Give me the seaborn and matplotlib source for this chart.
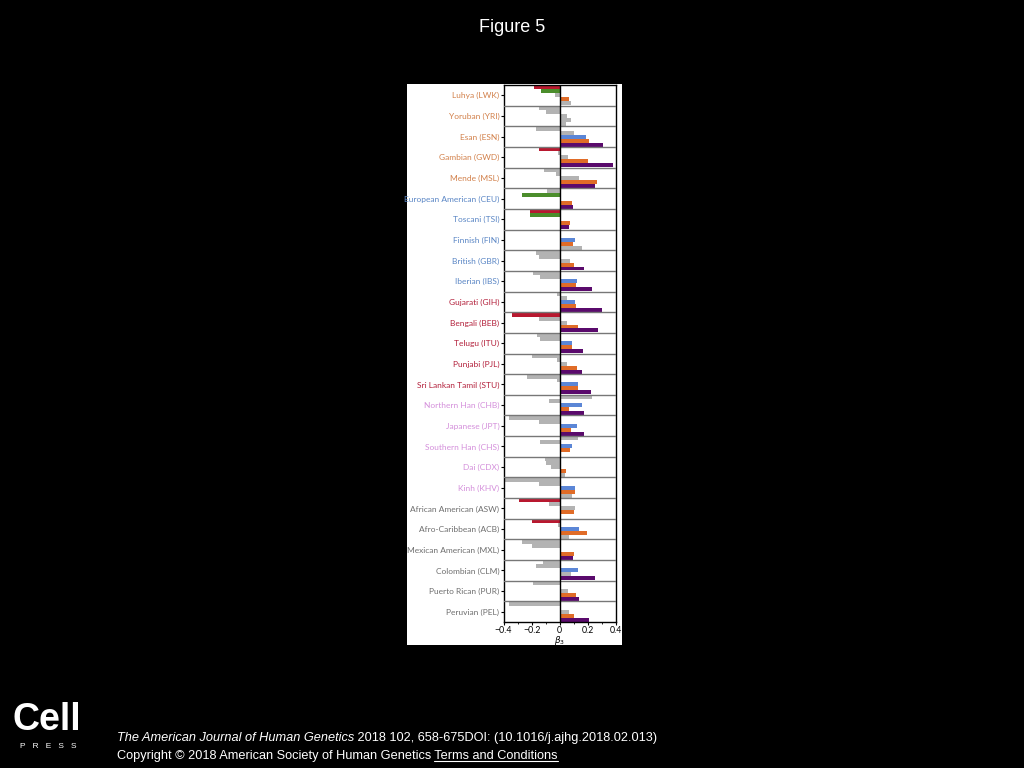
import matplotlib
matplotlib.use("Agg")

import matplotlib.pyplot as plt
import matplotlib.patches as mpatches
from matplotlib.ticker import MultipleLocator
import seaborn as sns
import pandas as pd

# ── data ──────────────────────────────────────────────
POPULATIONS = [
    "Luhya (LWK)", "Yoruban (YRI)", "Esan (ESN)", "Gambian (GWD)", "Mende (MSL)",
    "European American (CEU)", "Toscani (TSI)", "Finnish (FIN)", "British (GBR)", "Iberian (IBS)",
    "Gujarati (GIH)", "Bengali (BEB)", "Telugu (ITU)", "Punjabi (PJL)", "Sri Lankan Tamil (STU)",
    "Northern Han (CHB)", "Japanese (JPT)", "Southern Han (CHS)", "Dai (CDX)", "Kinh (KHV)",
    "African American (ASW)", "Afro-Caribbean (ACB)", "Mexican American (MXL)",
    "Colombian (CLM)", "Puerto Rican (PUR)", "Peruvian (PEL)",
]
GROUPS = ["AFR"] * 5 + ["EUR"] * 5 + ["SAS"] * 5 + ["EAS"] * 5 + ["AMR"] * 6

SERIES = ["red", "green", "blue", "orange", "purple"]

BETA_RED = [-0.18, -0.15, -0.17, -0.15, -0.11, -0.09, -0.21, 0.0, -0.17, -0.19,
            -0.023, -0.337, -0.16, -0.20, -0.23, 0.227, -0.36, 0.13, -0.105, -0.39,
            -0.29, -0.20, -0.265, -0.117, -0.19, -0.36]
BETA_GREEN = [-0.13, -0.10, 0.10, -0.015, -0.03, -0.27, -0.215, 0.0, -0.15, -0.14,
              0.054, -0.15, -0.14, -0.023, -0.023, -0.08, -0.147, -0.14, -0.10, -0.147,
              -0.08, -0.016, -0.20, -0.168, 0.0, 0.0]
BETA_BLUE = [-0.035, 0.054, 0.19, 0.06, 0.14, 0.0, 0.0, 0.105, 0.075, 0.126,
             0.105, 0.054, 0.09, 0.054, 0.13, 0.157, 0.12, 0.087, -0.06, 0.11,
             0.105, 0.135, 0.0, 0.129, 0.056, 0.063]
BETA_ORANGE = [0.063, 0.077, 0.21, 0.20, 0.265, 0.087, 0.073, 0.094, 0.098, 0.112,
               0.117, 0.13, 0.09, 0.12, 0.13, 0.068, 0.08, 0.073, 0.042, 0.105,
               0.103, 0.197, 0.10, 0.08, 0.112, 0.098]
BETA_PURPLE = [0.077, 0.047, 0.31, 0.38, 0.25, 0.096, 0.066, 0.157, 0.175, 0.227,
               0.30, 0.27, 0.166, 0.16, 0.222, 0.17, 0.17, 0.0, 0.04, 0.09,
               0.0, 0.063, 0.094, 0.25, 0.136, 0.21]

# 1 = significant (coloured), 0 = not significant (grey)
SIG_RED = [1, 0, 0, 1, 0, 0, 1, 0, 0, 0, 0, 1, 0, 0, 0, 0, 0, 0, 0, 0, 1, 1, 0, 0, 0, 0]
SIG_GREEN = [1, 0, 0, 0, 0, 1, 1, 0, 0, 0, 0, 0, 0, 0, 0, 0, 0, 0, 0, 0, 0, 0, 0, 0, 0, 0]
SIG_BLUE = [0, 0, 1, 0, 0, 0, 0, 1, 0, 1, 1, 0, 1, 0, 1, 1, 1, 1, 0, 1, 0, 1, 0, 1, 0, 0]
SIG_ORANGE = [1, 0, 1, 1, 1, 1, 1, 1, 1, 1, 1, 1, 1, 1, 1, 1, 1, 1, 1, 1, 1, 1, 1, 0, 1, 1]
SIG_PURPLE = [0, 0, 1, 1, 1, 1, 1, 0, 1, 1, 1, 1, 1, 1, 1, 1, 1, 0, 0, 0, 0, 0, 1, 1, 1, 1]

# ── style ─────────────────────────────────────────────
BG = "black"
GREY_BAR = "#b3b3b3"
BAR_COLORS = {
    "red": "#b8182f",
    "green": "#4b8d2b",
    "blue": "#5b86d6",
    "orange": "#e06c28",
    "purple": "#5a0a6c",
}
LABEL_COLORS = {
    "AFR": "#d2804a",
    "EUR": "#5a86c5",
    "SAS": "#b3203b",
    "EAS": "#d48fdb",
    "AMR": "#6e6e6e",
}
SLIDE_FONT = ["Liberation Sans", "DejaVu Sans"]

sns.set_theme(style="white")
plt.rcParams["font.family"] = ["Lato", "DejaVu Sans"]

df = pd.DataFrame({
    "population": POPULATIONS * 5,
    "series": [s for s in SERIES for _ in POPULATIONS],
    "beta": BETA_RED + BETA_GREEN + BETA_BLUE + BETA_ORANGE + BETA_PURPLE,
})
sig = [SIG_RED, SIG_GREEN, SIG_BLUE, SIG_ORANGE, SIG_PURPLE]

fig = plt.figure(figsize=(10.24, 7.68), dpi=100, facecolor=BG)

# white panel behind the chart
fig.patches.append(mpatches.Rectangle((407 / 1024, 1 - 645 / 768), 215 / 1024, 561 / 768,
                                      transform=fig.transFigure, facecolor="white",
                                      edgecolor="none", zorder=-1))

ax = fig.add_axes([503.5 / 1024, 1 - 622 / 768, 112.5 / 1024, 537 / 768])
ax.set_zorder(1)
ax.set_facecolor("white")

sns.barplot(data=df, x="beta", y="population", hue="series", hue_order=SERIES,
            order=POPULATIONS, orient="h", palette=BAR_COLORS, saturation=1,
            width=0.96, gap=0, errorbar=None, legend=False, linewidth=0, ax=ax)

# grey out the non-significant bars
for k, container in enumerate(ax.containers):
    for i, bar in enumerate(container):
        if not sig[k][i]:
            bar.set_facecolor(GREY_BAR)

# row separators and zero line
for i in range(len(POPULATIONS) - 1):
    ax.axhline(i + 0.5, color="#777777", lw=1.0, zorder=3)
ax.axvline(0, color="black", lw=1.0, zorder=4)

ax.set_xlim(-0.4, 0.4)
ax.set_ylim(len(POPULATIONS) - 0.5, -0.5)
ax.set_xticks([-0.4, -0.2, 0, 0.2, 0.4])
ax.set_xticklabels(["\u22120.4", "\u22120.2", "0", "0.2", "0.4"])
ax.xaxis.set_minor_locator(MultipleLocator(0.1))
ax.tick_params(axis="x", which="major", length=2.5, width=0.8, color="black",
               labelsize=6.3, labelcolor="black", pad=0.2, bottom=True)
ax.tick_params(axis="x", which="minor", length=1.5, width=0.6, color="black", bottom=True)
ax.tick_params(axis="y", length=2, width=0.8, color="black", labelsize=6.0, pad=1, left=True)

ax.set_ylabel("")
ax.set_xlabel(r"$\beta_3$", fontsize=6.3, color="black")
ax.xaxis.label.set_va("top")
ax.xaxis.set_label_coords(0.5, -0.0225)

for lbl, grp in zip(ax.get_yticklabels(), GROUPS):
    lbl.set_color(LABEL_COLORS[grp])

for side in ["top", "bottom", "left", "right"]:
    ax.spines[side].set_visible(True)
    ax.spines[side].set_color("black")
    ax.spines[side].set_linewidth(1.0)

# ── slide furniture ───────────────────────────────────
fig.text(0.5, 1 - 27 / 768, "Figure 5", color="white", fontsize=13,
         ha="center", va="center", family=SLIDE_FONT)

fig.text(13 / 1024, 1 - 720 / 768, "Cell", color="white", fontsize=27, fontweight="bold",
         ha="left", va="center", family=SLIDE_FONT)
fig.text(48 / 1024, 1 - 746 / 768, "P   R   E   S   S", color="white", fontsize=6,
         ha="center", va="center", family=SLIDE_FONT)

renderer = fig.canvas.get_renderer()
cite_font = dict(color="white", fontsize=9.2, va="center", ha="left", family=SLIDE_FONT)
t1 = fig.text(117 / 1024, 1 - 738 / 768, "The American Journal of Human Genetics",
              style="italic", **cite_font)
x_end = t1.get_window_extent(renderer).x1 / fig.bbox.width
fig.text(x_end, 1 - 738 / 768, " 2018 102, 658-675DOI: (10.1016/j.ajhg.2018.02.013)",
         **cite_font)

t3 = fig.text(117 / 1024, 1 - 756 / 768, "Copyright \u00a9 2018 American Society of Human Genetics",
              **cite_font)
x_end = t3.get_window_extent(renderer).x1 / fig.bbox.width
t4 = fig.text(x_end, 1 - 756 / 768, " Terms and Conditions", **cite_font)
bb = t4.get_window_extent(renderer)
fig.add_artist(plt.Line2D([bb.x0 / fig.bbox.width + 0.003, bb.x1 / fig.bbox.width],
                          [(bb.y0 + 1) / fig.bbox.height] * 2,
                          color="white", lw=0.8, transform=fig.transFigure))

fig.savefig("out.png", dpi=100, facecolor=BG)
